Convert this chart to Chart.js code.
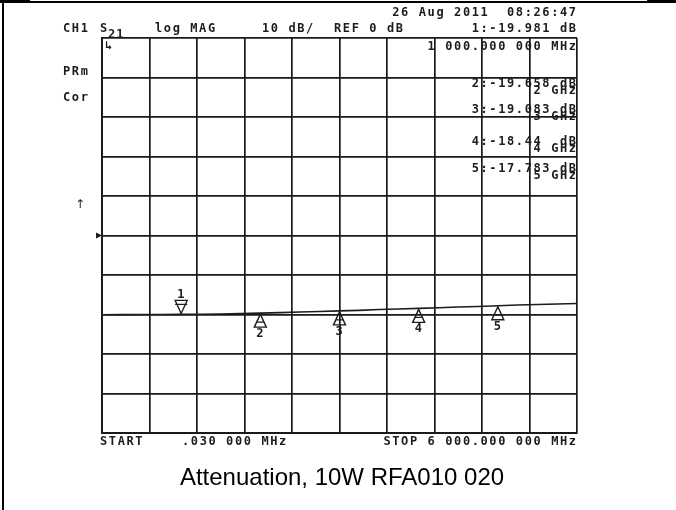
<!DOCTYPE html>
<html>
<head>
<meta charset="utf-8">
<script src="https://cdn.jsdelivr.net/npm/chart.js@4/dist/chart.umd.min.js"></script>
<style>
  html, body { margin: 0; padding: 0; background: #fff; }
  #wrap { position: relative; width: 676px; height: 510px; }
</style>
</head>
<body>
<div id="wrap"><canvas id="myChart" width="676" height="510"></canvas></div>
<script>
'use strict';

// sweep (MHz) and the S21 trace (dB)
var startMHz = 0.03;
var stopMHz = 6000;
var freqMHz = [0.03, 250, 500, 750, 1000, 1250, 1500, 1750, 2000, 2250, 2500, 2750,
               3000, 3250, 3500, 3750, 4000, 4250, 4500, 4750, 5000, 5250, 5500, 5750, 6000];
var s21dB   = [-20.05, -20.02, -20.0, -19.99, -19.981, -19.93, -19.86, -19.74, -19.658, -19.52,
               -19.38, -19.24, -19.083, -18.95, -18.74, -18.6, -18.44, -18.3, -18.12, -17.96,
               -17.783, -17.6, -17.48, -17.35, -17.22];

// markers
var markerIds = ['1', '2', '3', '4', '5'];
var markerMHz = [1000, 2000, 3000, 4000, 5000];
var markerDB  = [-19.981, -19.658, -19.083, -18.44, -17.783];
var markerValText = ['1:-19.981 dB', '2:-19.658 dB', '3:-19.083 dB', '4:-18.44  dB', '5:-17.783 dB'];
var markerFreqText = ['1 000.000 000 MHz', '2 GHz', '3 GHz', '4 GHz', '5 GHz'];

// scale: 10 dB/div, REF 0 dB at centre line
var dbPerDiv = 10;
var refDB = 0;
var divisions = 10;

// screen annotations
var headerLeft = [['CH1', 63], ['log MAG', 155], ['10 dB/', 262], ['REF 0 dB', 334]];
var dateText = '26 Aug 2011  08:26:47';
var sideLabels = ['PRm', 'Cor'];
var startText = ['START', '.030 000 MHz'];
var stopText = 'STOP 6 000.000 000 MHz';
var caption = 'Attenuation, 10W RFA010 020';

var INK = '#1c1c1c';
var MONO = 'bold 12px "DejaVu Sans Mono", monospace';

function mono(ctx, txt, x, y, align) {
  ctx.save();
  ctx.font = MONO;
  ctx.letterSpacing = '1.6px';
  ctx.fillStyle = INK;
  ctx.textBaseline = 'middle';
  ctx.textAlign = align || 'left';
  if (align === 'right') x += 1.6;
  ctx.fillText(txt, x, y);
  ctx.restore();
}

var screenPlugin = {
  id: 'screen',
  beforeDraw: function(chart) {
    var ctx = chart.ctx;
    ctx.save();
    ctx.fillStyle = '#fff';
    ctx.fillRect(0, 0, chart.width, chart.height);
    ctx.strokeStyle = '#000';
    ctx.lineWidth = 2;
    ctx.beginPath();
    ctx.moveTo(3, 0); ctx.lineTo(3, chart.height);
    ctx.moveTo(0, 2); ctx.lineTo(648, 2);
    ctx.stroke();
    ctx.fillStyle = '#000';
    ctx.fillRect(0, 0, 30, 3);
    ctx.fillRect(647, 0, 29, 3);
    ctx.restore();
  },
  afterDraw: function(chart) {
    var ctx = chart.ctx;
    var x = chart.scales.x, y = chart.scales.y, a = chart.chartArea;

    // header
    headerLeft.forEach(function(h) { mono(ctx, h[0], h[1], 29); });
    ctx.save();
    ctx.font = MONO; ctx.fillStyle = INK; ctx.textBaseline = 'middle';
    ctx.fillText('S', 100, 29);
    ctx.letterSpacing = '1px';
    ctx.fillText('21', 108, 35);
    ctx.restore();
    mono(ctx, dateText, a.right - 1, 13, 'right');
    mono(ctx, markerValText[0], a.right - 1, 29, 'right');
    mono(ctx, markerFreqText[0], a.right - 1, 47, 'right');

    // marker readouts
    var rowY = [0, 84, 110, 142, 169];
    for (var i = 1; i < markerIds.length; i++) {
      mono(ctx, markerValText[i], a.right - 1, rowY[i], 'right');
      mono(ctx, markerFreqText[i], a.right - 1, rowY[i] + 7, 'right');
    }

    // side labels
    mono(ctx, sideLabels[0], 63, 72);
    mono(ctx, sideLabels[1], 63, 98);
    ctx.save();
    ctx.font = '12px "DejaVu Sans", sans-serif';
    ctx.fillStyle = INK; ctx.textBaseline = 'middle';
    ctx.fillText('\u2191', 75, 205);
    ctx.restore();
    mono(ctx, '\u21b3', a.left + 3, a.top + 8);

    // reference position arrow
    var ry = y.getPixelForValue(refDB);
    ctx.save();
    ctx.fillStyle = INK;
    ctx.beginPath();
    ctx.moveTo(a.left - 6, ry - 3); ctx.lineTo(a.left, ry); ctx.lineTo(a.left - 6, ry + 3);
    ctx.closePath(); ctx.fill();
    ctx.restore();

    // markers on the trace
    ctx.save();
    ctx.strokeStyle = INK;
    ctx.lineWidth = 1.4;
    for (var k = 0; k < markerIds.length; k++) {
      var px = x.getPixelForValue(markerMHz[k]);
      var py = y.getPixelForValue(markerDB[k]);
      ctx.beginPath();
      if (k === 0) {
        ctx.moveTo(px, py - 1); ctx.lineTo(px - 6, py - 14); ctx.lineTo(px + 6, py - 14); ctx.closePath();
        ctx.moveTo(px - 6, py - 10); ctx.lineTo(px + 6, py - 10);
        ctx.stroke();
        mono(ctx, markerIds[k], px - 4, py - 20);
      } else {
        ctx.moveTo(px, py + 1); ctx.lineTo(px - 6, py + 14); ctx.lineTo(px + 6, py + 14); ctx.closePath();
        ctx.moveTo(px - 4, py + 9); ctx.lineTo(px + 4, py + 9);
        ctx.stroke();
        mono(ctx, markerIds[k], px - 4, py + 21);
      }
    }
    ctx.restore();

    // footer
    mono(ctx, startText[0], 100, 442);
    mono(ctx, startText[1], 182, 442);
    mono(ctx, stopText, a.right - 1, 442, 'right');

    ctx.save();
    ctx.font = '24px "Liberation Sans", Arial, sans-serif';
    ctx.fillStyle = '#000';
    ctx.textAlign = 'center';
    ctx.textBaseline = 'alphabetic';
    ctx.fillText(caption, 342, 485);
    ctx.restore();
  }
};

var ctx = document.getElementById('myChart');

var chart = new Chart(ctx, {
    type: 'line',
    data: {
        datasets: [
        {
            label: 'S21',
            data: freqMHz.map(function(f, i) { return { x: f, y: s21dB[i] }; }),
            borderColor: INK,
            borderWidth: 1.6,
            pointRadius: 0,
            tension: 0
        }
        ]
    },
    options: {
        responsive: false,
        animation: false,
        devicePixelRatio: 1,
        layout: { padding: { left: 102, top: 38, right: 99, bottom: 77 } },
        plugins: { legend: { display: false }, tooltip: { enabled: false } },
        scales: {
            x: {
                type: 'linear',
                min: 0,
                max: stopMHz,
                ticks: { display: false, stepSize: (stopMHz - 0) / divisions },
                grid: { color: '#1a1a1a', lineWidth: 1.7, drawTicks: false },
                border: { color: '#1a1a1a', width: 2 }
            },
            y: {
                min: refDB - dbPerDiv * divisions / 2,
                max: refDB + dbPerDiv * divisions / 2,
                ticks: { display: false, stepSize: dbPerDiv },
                grid: { color: '#1a1a1a', lineWidth: 1.7, drawTicks: false },
                border: { color: '#1a1a1a', width: 2 }
            }
        }
    },
    plugins: [screenPlugin]
});
</script>
</body>
</html>
